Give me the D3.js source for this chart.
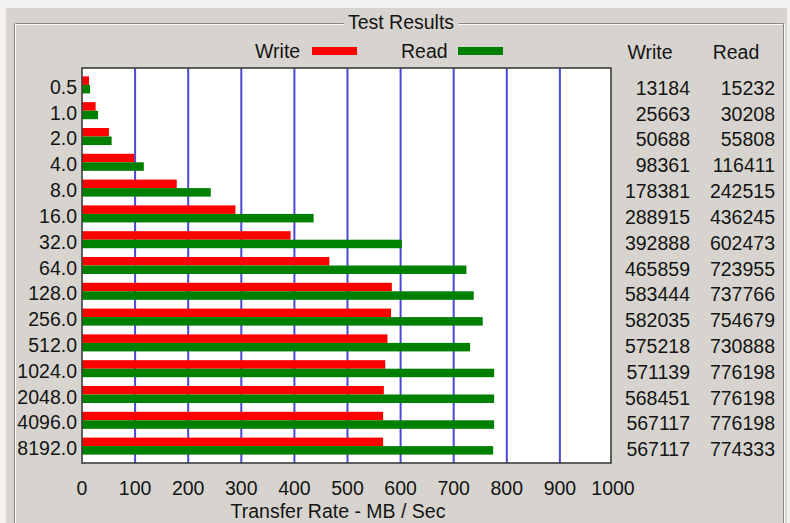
<!DOCTYPE html>
<html>
<head>
<meta charset="utf-8">
<script src="https://cdn.jsdelivr.net/npm/d3@7"></script>
<style>
  html, body { margin: 0; padding: 0; background: #f4f3f1; }
  svg { display: block; }
  text { font-family: "Liberation Sans", Arial, sans-serif; fill: #141414; }
</style>
</head>
<body>
<svg id="chart" width="790" height="523"></svg>
<script>
// ---- data ----
const blockSizes = ["0.5","1.0","2.0","4.0","8.0","16.0","32.0","64.0","128.0","256.0","512.0","1024.0","2048.0","4096.0","8192.0"];
const writeKB = [13184,25663,50688,98361,178381,288915,392888,465859,583444,582035,575218,571139,568451,567117,567117];
const readKB  = [15232,30208,55808,116411,242515,436245,602473,723955,737766,754679,730888,776198,776198,776198,774333];
const tickValues = [0,100,200,300,400,500,600,700,800,900,1000];
const seriesNames = ["Write","Read"];
const seriesColors = ["#ff0000","#008000"];
const title = "Test Results";
const xTitle = "Transfer Rate - MB / Sec";

// ---- layout ----
const svg = d3.select("#chart");
const W = 790, H = 523;
const plot = {left: 82, top: 68, right: 611, bottom: 463};
const fs = 19.5;

// background panel
svg.append("rect").attr("x", 0).attr("y", 0).attr("width", W).attr("height", H).attr("fill", "#f2f1ef");
svg.append("rect").attr("x", 6).attr("y", 8).attr("width", 781).attr("height", H - 8).attr("fill", "#d7d4cf");

// group box (etched)
const gb = {x: 14, y: 23, r: 783};
const etched = (x1, y1, x2, y2, dx, dy) => {
  svg.append("line").attr("x1", x1).attr("y1", y1).attr("x2", x2).attr("y2", y2)
    .attr("stroke", "#8a8885").attr("stroke-width", 1);
  svg.append("line").attr("x1", x1 + dx).attr("y1", y1 + dy).attr("x2", x2 + dx).attr("y2", y2 + dy)
    .attr("stroke", "#fbfbfa").attr("stroke-width", 1);
};
etched(gb.x + 0.5, gb.y + 0.5, gb.r + 0.5, gb.y + 0.5, 0, 1);
etched(gb.x + 0.5, gb.y + 0.5, gb.x + 0.5, H, 1, 0);
etched(gb.r + 0.5, gb.y + 0.5, gb.r + 0.5, H, 1, 0);

// title with background masking the line
const tt = svg.append("text").attr("x", 401).attr("y", 29).attr("text-anchor", "middle")
  .attr("font-size", fs).text(title);
const bb = tt.node().getBBox();
svg.insert("rect", "text").attr("x", bb.x - 4).attr("y", 18).attr("width", bb.width + 8).attr("height", 10).attr("fill", "#d7d4cf");

// scales
const x = d3.scaleLinear().domain([0, 1000]).range([plot.left, 613]);
const y = d3.scaleBand().domain(blockSizes).range([plot.top, plot.bottom]).paddingInner(0.34).paddingOuter(0.325);
const ys = d3.scaleBand().domain(seriesNames).range([0, y.bandwidth()]);

// plot background
svg.append("rect").attr("x", plot.left).attr("y", plot.top)
  .attr("width", plot.right - plot.left).attr("height", plot.bottom - plot.top).attr("fill", "#ffffff");

// gridlines
svg.append("g").selectAll("line").data(tickValues.filter(d => d > 0 && d < 1000)).join("line")
  .attr("x1", d => x(d)).attr("x2", d => x(d))
  .attr("y1", plot.top).attr("y2", plot.bottom)
  .attr("stroke", "#4a48d6").attr("stroke-width", 2);

// bars
const rows = blockSizes.map((b, i) => ({b, vals: [writeKB[i] / 1000, readKB[i] / 1000]}));
const g = svg.append("g");
rows.forEach(r => {
  r.vals.forEach((v, j) => {
    g.append("rect")
      .attr("x", x(0))
      .attr("y", y(r.b) + ys(seriesNames[j]))
      .attr("width", x(v) - x(0))
      .attr("height", ys.bandwidth())
      .attr("fill", seriesColors[j]);
  });
});

// plot border
svg.append("rect").attr("x", plot.left).attr("y", plot.top)
  .attr("width", plot.right - plot.left).attr("height", plot.bottom - plot.top)
  .attr("fill", "none").attr("stroke", "#3c3c3c").attr("stroke-width", 1.6);

// category labels
svg.append("g").selectAll("text").data(blockSizes).join("text")
  .attr("x", 77).attr("y", d => y(d) + y.bandwidth() / 2 + 9)
  .attr("text-anchor", "end").attr("font-size", fs).text(d => d);

// x axis tick labels
svg.append("g").selectAll("text").data(tickValues).join("text")
  .attr("x", d => x(d)).attr("y", 495)
  .attr("text-anchor", "middle").attr("font-size", fs).text(d => d);

svg.append("text").attr("x", 338).attr("y", 518).attr("text-anchor", "middle")
  .attr("font-size", fs).text(xTitle);

// legend
const legend = [{name: seriesNames[0], tx: 255, sx: 312}, {name: seriesNames[1], tx: 401, sx: 458}];
legend.forEach((l, j) => {
  svg.append("text").attr("x", l.tx).attr("y", 58).attr("font-size", fs).text(l.name);
  svg.append("rect").attr("x", l.sx).attr("y", 47).attr("width", 45).attr("height", 8).attr("fill", seriesColors[j]);
});

// right table
const cols = [{name: seriesNames[0], hx: 650, rx: 690, data: writeKB}, {name: seriesNames[1], hx: 736, rx: 775, data: readKB}];
cols.forEach(c => {
  svg.append("text").attr("x", c.hx).attr("y", 59).attr("text-anchor", "middle").attr("font-size", fs).text(c.name);
  svg.append("g").selectAll("text").data(c.data).join("text")
    .attr("x", c.rx).attr("y", (d, i) => y(blockSizes[i]) + y.bandwidth() / 2 + 10)
    .attr("text-anchor", "end").attr("font-size", fs).text(d => d);
});
</script>
</body>
</html>
